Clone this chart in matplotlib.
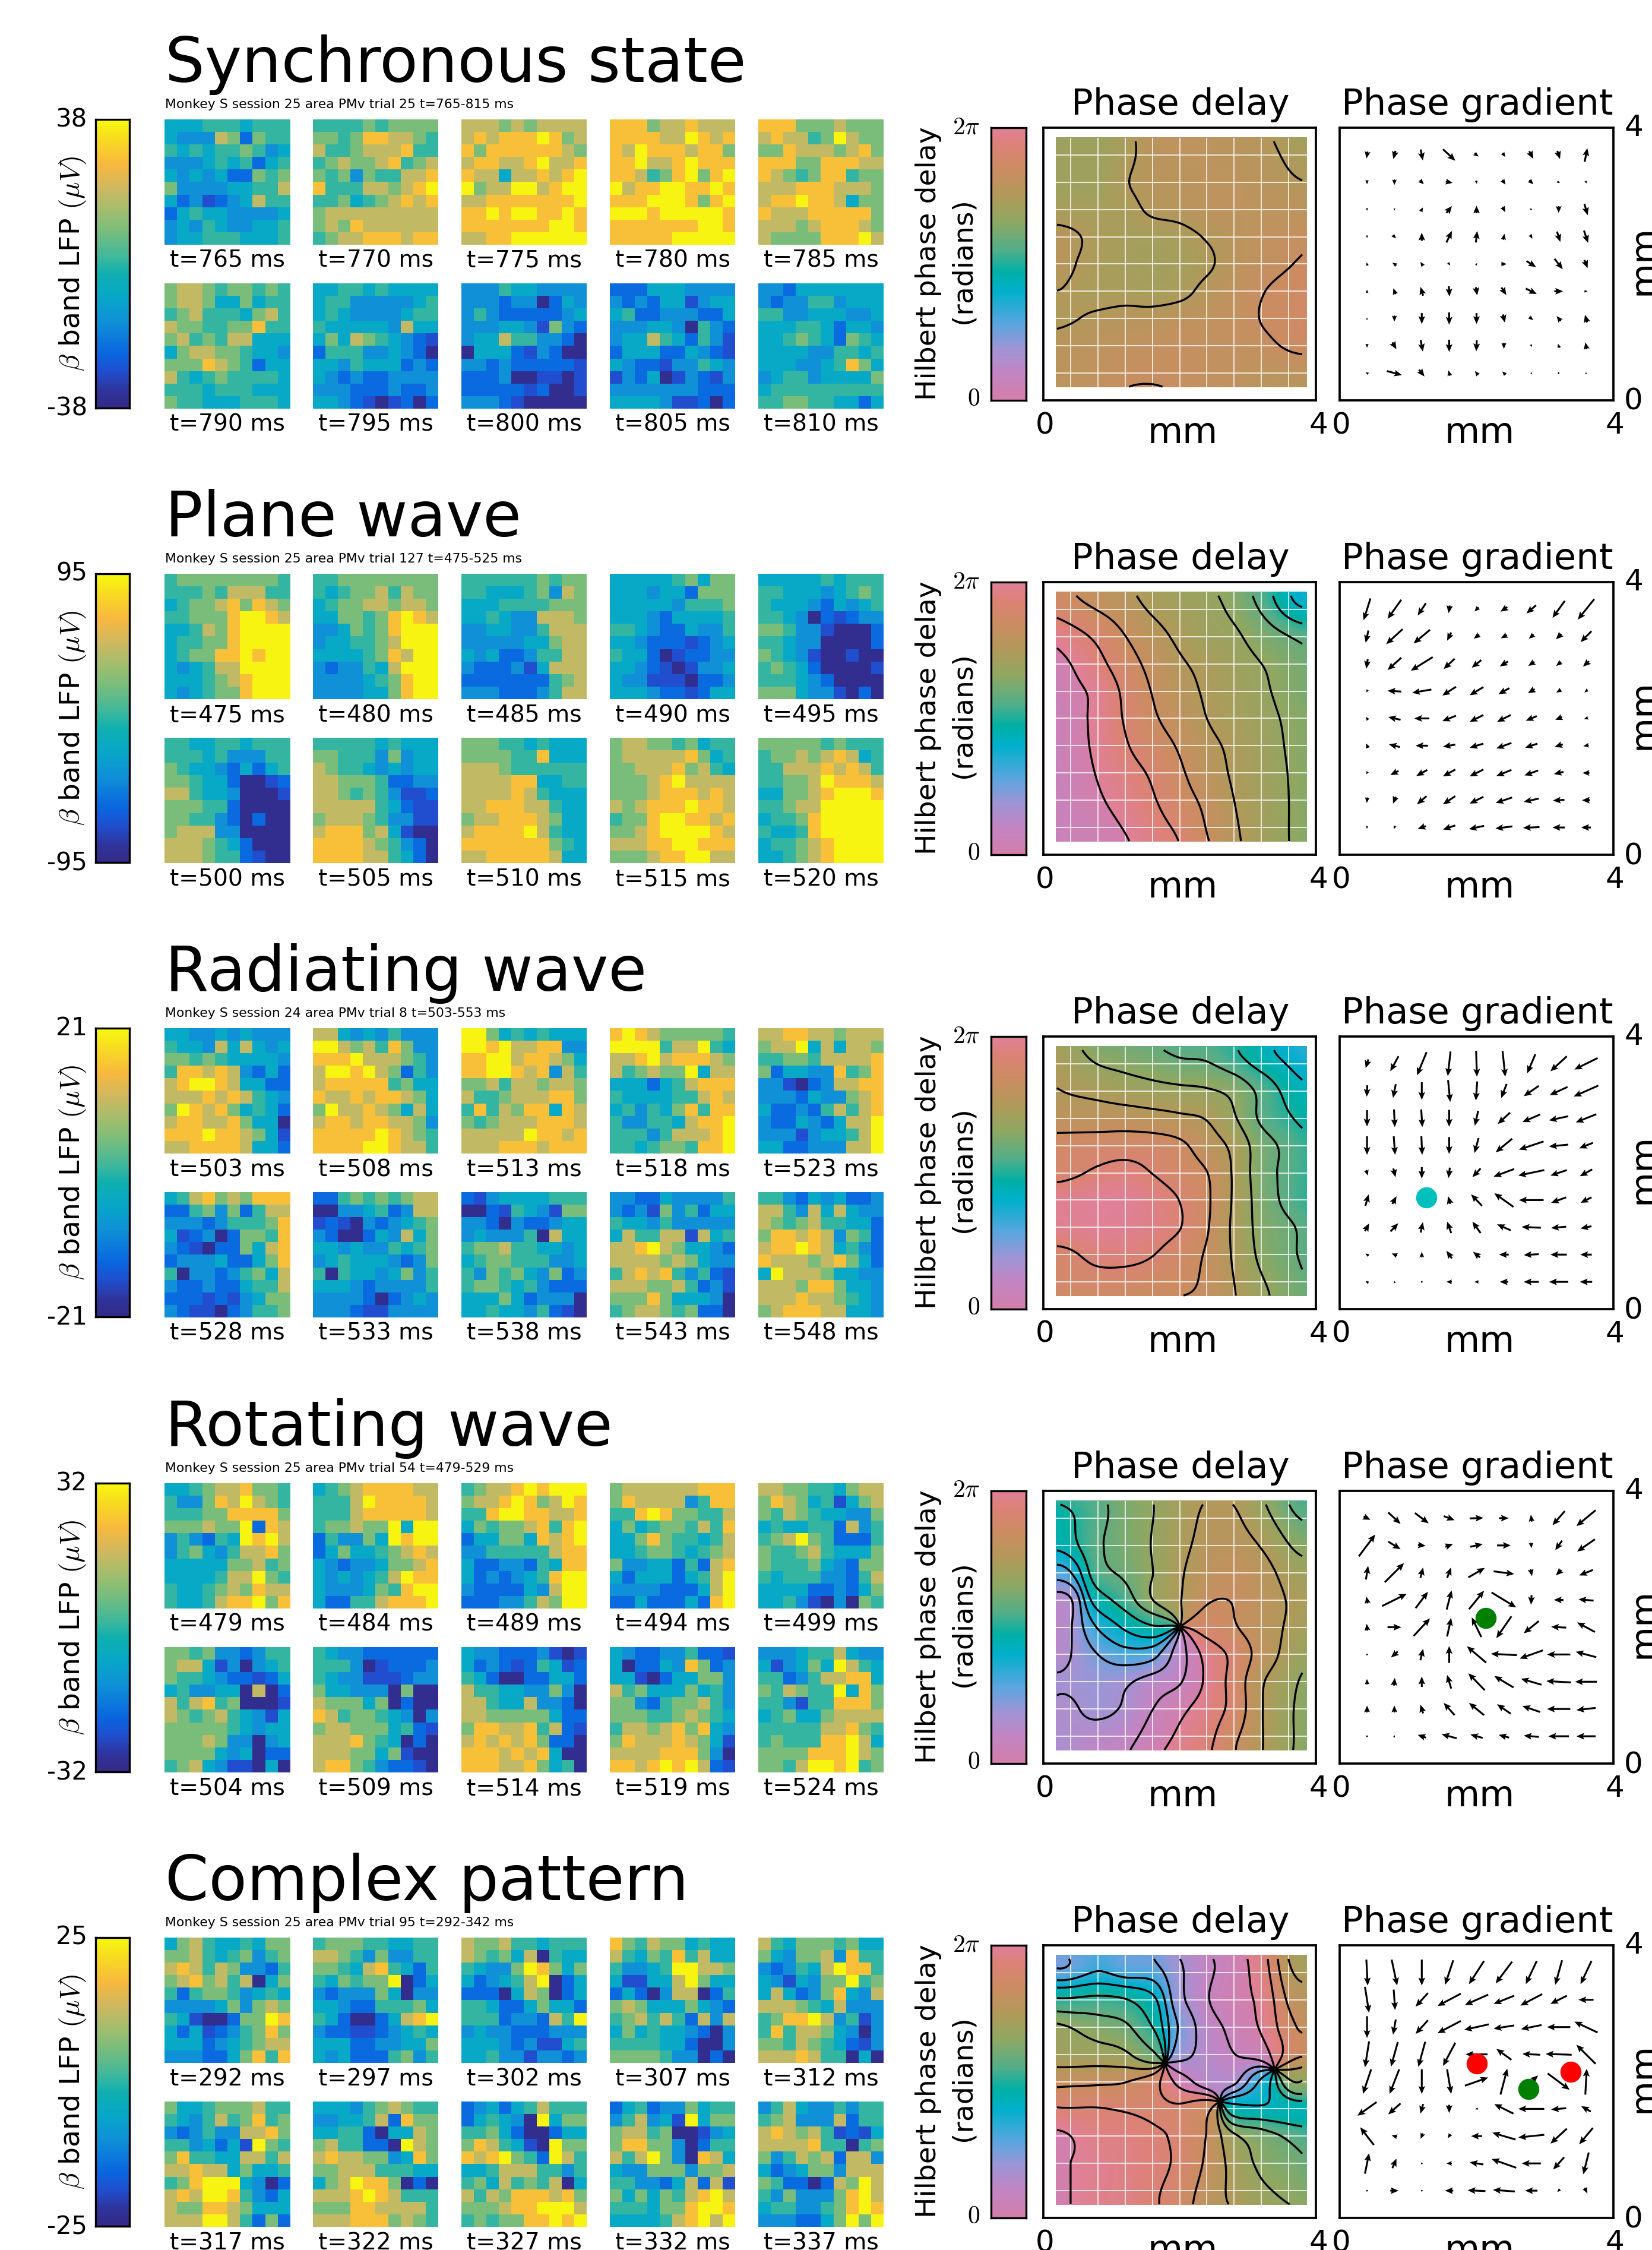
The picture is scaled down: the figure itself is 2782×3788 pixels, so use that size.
import numpy as np
import matplotlib
matplotlib.use("Agg")
import matplotlib.pyplot as plt
from matplotlib.colors import LinearSegmentedColormap

W_PX, H_PX = 2782, 3788
plt.rcParams["mathtext.fontset"] = "cm"

TITLES = ["Synchronous state", "Plane wave", "Radiating wave", "Rotating wave", "Complex pattern"]
CAPTIONS = [
    "Monkey S session 25 area PMv trial 25 t=765-815 ms",
    "Monkey S session 25 area PMv trial 127 t=475-525 ms",
    "Monkey S session 24 area PMv trial 8 t=503-553 ms",
    "Monkey S session 25 area PMv trial 54 t=479-529 ms",
    "Monkey S session 25 area PMv trial 95 t=292-342 ms",
]
LFP_LIMITS = [38, 95, 21, 32, 25]
TIMES = [
    [765, 770, 775, 780, 785, 790, 795, 800, 805, 810],
    [475, 480, 485, 490, 495, 500, 505, 510, 515, 520],
    [503, 508, 513, 518, 523, 528, 533, 538, 543, 548],
    [479, 484, 489, 494, 499, 504, 509, 514, 519, 524],
    [292, 297, 302, 307, 312, 317, 322, 327, 332, 337],
]

# colour levels, 0 = bottom of the colourbar, 9 = top
LEVEL_POS = [0.03, 0.128, 0.2, 0.3, 0.39, 0.51, 0.615, 0.74, 0.865, 0.985]

SYNC_LFP = [
    ["4445554555", "4333762655", "5454556534", "3334545245", "4343422656", "6333344557", "4231234755", "2454433334", "3435433445", "3445554445"],
    ["5555656666", "6656887765", "7556777855", "5676678567", "6563655778", "8555776789", "5564567878", "6777777777", "6768777777", "5677888788"],
    ["7776767777", "7878889867", "8688888876", "7887789778", "8774778789", "9677997899", "7788888889", "8898998898", "8888888998", "7788999999"],
    ["8886778777", "8888779878", "8798887886", "8897789888", "8875689689", "9788998898", "8889998689", "9998999998", "8888888998", "8888899999"],
    ["8886667666", "7877569766", "6687776786", "8886688877", "8765688566", "7778887776", "7889887466", "8777888886", "7776788876", "7666688897"],
    ["6776566565", "6776446455", "5675554675", "7665566855", "6756577444", "4677665443", "6668765244", "7545655554", "5554555444", "6554445554"],
    ["4455454444", "4553333345", "4543333455", "5444443744", "4647654321", "2555334320", "4435444232", "4323223333", "3332223223", "4432101202"],
    ["3335443333", "3332330243", "3532222234", "3334431632", "3447553320", "0444213200", "3323222221", "2223001101", "2222212001", "3332100000"],
    ["2224443333", "3232441344", "4522333224", "3334430532", "3447542531", "2444224321", "4322133543", "1324013213", "3333333222", "4444311202"],
    ["3324444444", "3233553444", "5533444334", "4445542443", "4456542654", "4444335545", "4443345864", "3455344446", "4555555555", "5566554424"],
]
PLANE_LFP = [
    ["5666666665", "5556577755", "4566786876", "5566689987", "4457689999", "4556689999", "4566889899", "4345779999", "4445678999", "4345668999"],
    ["5566666666", "5456675766", "4566776776", "4466568987", "3346568999", "3445567999", "4444568799", "3233547999", "3333456899", "3333446899"],
    ["5555556566", "5544456376", "4445555666", "4454337776", "3344335777", "3333344677", "4342235577", "3222314777", "2222222567", "3332223577"],
    ["4444456466", "4443442666", "4444435556", "4443244445", "5543224335", "4432221234", "5442012233", "4432101334", "4331110223", "4443221244"],
    ["4444454555", "5544434565", "5444324345", "5543021233", "6653310002", "5543300002", "6543100100", "5654200001", "5554320000", "6664331020"],
    ["5544554555", "5554533355", "6544324245", "6654420012", "7754430001", "6665520000", "6655320200", "6777330000", "7776542000", "7776552100"],
    ["5555545444", "6655536344", "7655434344", "7766652233", "7765653112", "7777754211", "6777653311", "7888674100", "8888765320", "8888775420"],
    ["6665545444", "6666558444", "7776555555", "7777884455", "7777875444", "7788877544", "6778887644", "7888897544", "8888888654", "7788888744"],
    ["6776656455", "6777778645", "6677786754", "6667897777", "6667888787", "7678889887", "5668998878", "6678999987", "7778899888", "6667889977"],
    ["6666656555", "5667678745", "5577787875", "5566798887", "4466789998", "5567799999", "4556899999", "5445899999", "4556789999", "4456789999"],
]
RADIATE_LFP = [
    ["4433434333", "5443747434", "6656544443", "5887873242", "7899874422", "7778787543", "6987864542", "7887786440", "8889887641", "7788887442"],
    ["7743435333", "9976758633", "8889777653", "7998976253", "7888885644", "8778788764", "6977876474", "7887887763", "8888898765", "8888998775"],
    ["9964545444", "9989778833", "8899788764", "8899878375", "6675776776", "7556777886", "5857688487", "6567778887", "7777798878", "7778887888"],
    ["8987666665", "9999577954", "7789788876", "7567669477", "4442457888", "5444455787", "4535468588", "5335547889", "5553577789", "5545665889"],
    ["7788776777", "6779474776", "5566577778", "6244338568", "3310237788", "3332433678", "4223257578", "3224324779", "3331344579", "4422333779"],
    ["4578676888", "2256362577", "3332355568", "4123026658", "3210226478", "2333422468", "5033235647", "3223224557", "2221213466", "3211023556"],
    ["2256565677", "0033452377", "1210323456", "3200243746", "4434335456", "3454443236", "5054434635", "4443233335", "3333202343", "3332113333"],
    ["2134444555", "0021543166", "3320322344", "3433350744", "5667554434", "4566555334", "5365643623", "5665453222", "4446423330", "4454435210"],
    ["3322433335", "3231635244", "5443533333", "4755771745", "7789764432", "7777676433", "5787853521", "7776675231", "6668644430", "5677656220"],
    ["5532434223", "7753747433", "7656755442", "6887873652", "7889874532", "8777678642", "4977764433", "7776886443", "7778776543", "6788877443"],
]
ROTATE_LFP = [
    ["4456778665", "5336879765", "5556688886", "6667669287", "3532549897", "3564357786", "4444466756", "4444577965", "5445676877", "5445788968"],
    ["4567888877", "5557988887", "5557888887", "5667669499", "2533649899", "2464456787", "4323346678", "4343457988", "4333465899", "4225578889"],
    ["5677898999", "6778986798", "5589988778", "4656678589", "2446648789", "3355555788", "4223325488", "4232345899", "3222243799", "2223357699"],
    ["6777777888", "6877773588", "5589866557", "4645665758", "4468655457", "4456654567", "6334425278", "4244424579", "3333222479", "2242224289"],
    ["7766554677", "6876451467", "6576544336", "4544552735", "5679652225", "6556754446", "6555643266", "5455533257", "4444223246", "4453103065"],
    ["6656332355", "6774130345", "6554322124", "4533440702", "7578560001", "7656754314", "6666654344", "6667633034", "6666434022", "5674311040"],
    ["5433222222", "5553012223", "5433111233", "6443330600", "7666460200", "8756654303", "6776664521", "7778654020", "7776646100", "7886532210"],
    ["4332223101", "4232125412", "5420022442", "7554433630", "7754473320", "7766666422", "6887785721", "7878786220", "8887878400", "8887786450"],
    ["4322335221", "4022438623", "4410244663", "7564446453", "6632566753", "6665567654", "5776786843", "6877787641", "7777888630", "8878989721"],
    ["3334557433", "4134649754", "5523577884", "6576559486", "5531558886", "4564467777", "5555577865", "5655588974", "6666888976", "6657998956"],
]
COMPLEX_LFP = [
    ["4675445466", "6675456356", "7875763325", "6786757046", "5256653454", "3333463676", "5410026698", "4241235686", "4442345677", "3332246858"],
    ["5666554455", "7765363355", "6654785425", "5465669024", "3233364033", "4432255564", "5420024789", "3221123454", "4442233446", "4342225635"],
    ["7667554555", "7656470544", "5433698646", "4234579024", "2220476024", "5542246442", "5552332759", "3433222333", "4443231145", "4453313323"],
    ["8657664544", "7546585744", "5334599776", "4114479644", "2420377025", "6764446432", "5675752737", "4645443203", "5555442003", "6666533020"],
    ["7546665644", "6436673855", "3235479885", "4314366956", "4742368437", "7776547333", "5688973513", "5857764303", "6657654213", "7778755040"],
    ["6445666755", "5435756856", "3235337786", "5534241965", "6855447757", "7787746445", "5689994302", "7879985324", "7668876444", "7779975262"],
    ["4443567655", "3344572866", "4455204476", "6755220976", "7877663486", "6677755544", "4679886020", "7778987555", "6668877775", "7778886765"],
    ["2342457555", "2454309466", "5564200244", "6875410966", "8789652975", "4457775535", "5647565704", "7576888786", "6667889997", "5656688989"],
    ["2452336455", "3573419466", "6775600134", "6886630255", "7579630874", "4336663667", "5533247271", "6464657897", "5554668998", "4444578979"],
    ["3574335355", "5673337255", "7876751214", "7777855056", "6357672773", "4234663777", "6522027697", "5363336897", "4553356898", "3332246969"],
]
LFP_FRAMES = [SYNC_LFP, PLANE_LFP, RADIATE_LFP, ROTATE_LFP, COMPLEX_LFP]

# phase at the 9x9 electrode grid in cycles, top row first; nan = phase singularity
SYNC_PHASE = [
    [.70, .70, .73, .78, .79, .79, .78, .77, .74],
    [.70, .70, .745, .77, .78, .79, .79, .78, .76],
    [.72, .72, .73, .76, .77, .79, .79, .79, .79],
    [.76, .735, .72, .72, .73, .755, .78, .80, .81],
    [.755, .73, .72, .71, .72, .74, .78, .81, .83],
    [.745, .73, .73, .72, .73, .77, .80, .83, .85],
    [.745, .76, .77, .775, .79, .80, .81, .835, .85],
    [.78, .79, .80, .81, .82, .81, .81, .82, .84],
    [.79, .80, .82, .825, .82, .81, .80, .79, .79],
]
PLANE_PHASE = [
    [.87, .83, .79, .74, .71, .69, .65, .575, .46],
    [.95, .90, .835, .78, .735, .70, .68, .63, .585],
    [1.0, .94, .87, .81, .76, .73, .70, .667, .63],
    [1.02, .98, .90, .83, .78, .74, .71, .68, .64],
    [1.03, .98, .91, .845, .80, .75, .72, .69, .655],
    [1.03, .985, .925, .87, .825, .77, .735, .70, .66],
    [1.04, .995, .95, .905, .845, .79, .74, .705, .665],
    [1.05, 1.01, .97, .925, .865, .815, .75, .71, .667],
    [1.05, 1.03, .995, .95, .90, .83, .76, .71, .667],
]
RADIATE_PHASE = [
    [.71, .665, .645, .625, .60, .59, .54, .47, .41],
    [.745, .73, .71, .695, .685, .675, .645, .56, .47],
    [.79, .79, .79, .78, .765, .745, .675, .57, .51],
    [.87, .875, .88, .875, .85, .79, .73, .62, .56],
    [.90, .93, .945, .915, .875, .835, .74, .62, .56],
    [.98, .99, .99, .96, .915, .845, .74, .63, .56],
    [.98, .99, .98, .96, .92, .84, .735, .64, .595],
    [.905, .94, .945, .92, .87, .825, .74, .65, .60],
    [.88, .885, .875, .865, .85, .82, .75, .675, .62],
]
ROTATE_PHASE = [
    [.49, .56, .62, .665, .72, .76, .76, .70, .61],
    [.47, .57, .62, .67, .73, .77, .78, .745, .67],
    [.33, .55, .60, .665, .74, .79, .81, .78, .72],
    [.16, .46, .54, .665, .745, .825, .83, .79, .745],
    [.16, .34, .43, .49, np.nan, .88, .84, .79, .74],
    [.165, .25, .30, .28, .12, .97, .895, .80, .72],
    [.18, .20, .18, .13, .09, .985, .885, .76, .69],
    [.155, .185, .155, .085, .02, .96, .89, .755, .68],
    [.15, .13, .11, .05, .985, .94, .85, .755, .68],
]
COMPLEX_PHASE = [
    [.28, .34, .30, .29, .18, .10, .04, .96, .77],
    [.51, .52, .505, .44, .19, .09, .03, .98, .82],
    [.665, .63, .60, .50, .24, .12, .06, .99, .86],
    [.70, .70, .68, .60, .20, .13, .085, .04, .88],
    [.815, .82, .83, .88, .03, .13, .15, .35, .65],
    [.92, .92, .91, .90, .90, .85, .45, .43, .44],
    [1.0, .96, .95, .93, .90, .83, .68, .62, .57],
    [1.0, .98, .96, .94, .90, .82, .72, .65, .62],
    [1.0, .975, .96, .93, .88, .80, .73, .68, .65],
]
PHASE_FIELDS = [SYNC_PHASE, PLANE_PHASE, RADIATE_PHASE, ROTATE_PHASE, COMPLEX_PHASE]

# (u, v) of each arrow in grid steps, top row first
SYNC_ARROWS = [
    [(-.04, -.25), (-.08, -.3), (.08, -.4), (.45, -.42), (.15, -.12), (.1, -.15), (.15, -.28), (.1, -.3), (.1, .5)],
    [(0, -.15), (0, -.2), (.15, -.15), (.25, -.05), (.02, -.12), (.12, -.17), (.15, -.15), (.1, -.05), (.03, -.1)],
    [(0, -.1), (0, -.08), (.08, .15), (.2, .25), (0, .28), (.1, -.2), (.08, -.05), (0, -.25), (.12, -.42)],
    [(0, -.1), (.12, -.12), (0, .3), (.2, .42), (.05, .42), (.04, .22), (.08, -.15), (.12, -.38), (.15, -.45)],
    [(-.03, .12), (-.15, .1), (-.1, .15), (.08, -.1), (.05, .08), (.2, 0), (.35, -.22), (.3, -.38), (.12, -.3)],
    [(0, .12), (-.08, .22), (-.1, .32), (.02, -.38), (.05, -.3), (.18, -.28), (.4, -.2), (.32, 0), (.12, 0)],
    [(0, .08), (0, -.22), (0, -.4), (0, -.45), (0, -.4), (.08, -.3), (.14, -.12), (-.15, .18), (-.08, .28)],
    [(0, -.14), (.15, -.25), (.08, -.42), (0, -.45), (-.02, -.4), (0, -.22), (.02, -.1), (-.05, .15), (-.05, .25)],
    [(-.1, .06), (.55, -.15), (.2, -.25), (-.05, .2), (-.12, .15), (-.12, .12), (0, .08), (0, .06), (0, .08)],
]
PLANE_ARROWS = [
    [(-.25, -.8), (-.5, -.7), (-.3, -.45), (-.04, -.28), (-.15, -.15), (-.25, -.17), (-.35, -.3), (-.45, -.62), (-.6, -.75)],
    [(-.1, -.45), (-.6, -.55), (-.6, -.5), (-.15, -.3), (-.2, -.15), (-.22, -.12), (-.18, -.15), (-.2, -.2), (-.4, -.4)],
    [(-.05, -.35), (-.5, -.45), (-.8, -.5), (-.4, -.38), (-.35, -.28), (-.3, -.18), (-.22, -.15), (-.18, -.15), (-.22, -.2)],
    [(-.04, -.1), (-.5, .03), (-.7, -.12), (-.5, -.32), (-.5, -.3), (-.4, -.22), (-.25, -.15), (-.18, -.1), (-.12, -.1)],
    [(-.08, .12), (-.45, .1), (-.55, 0), (-.5, -.2), (-.5, -.25), (-.5, -.25), (-.4, -.17), (-.25, -.1), (-.15, -.05)],
    [(-.08, .17), (-.4, .1), (-.45, 0), (-.45, -.08), (-.5, -.15), (-.55, -.2), (-.45, -.15), (-.3, -.1), (-.2, -.03)],
    [(-.05, -.1), (-.3, -.15), (-.4, -.22), (-.45, -.25), (-.5, -.25), (-.55, -.22), (-.5, -.18), (-.35, -.08), (-.25, 0)],
    [(-.02, -.2), (-.1, -.25), (-.35, -.3), (-.45, -.3), (-.5, -.25), (-.6, -.2), (-.55, -.12), (-.42, -.03), (-.3, 0)],
    [(0, -.1), (-.05, -.12), (-.3, -.1), (-.45, -.15), (-.55, -.12), (-.62, -.08), (-.6, -.03), (-.45, 0), (-.35, 0)],
]
RADIATE_ARROWS = [
    [(-.1, -.32), (-.3, -.55), (-.35, -.85), (-.1, -.9), (.03, -.95), (.1, -.95), (-.3, -.7), (-.6, -.55), (-.85, -.42)],
    [(-.02, -.42), (-.1, -.5), (0, -.65), (.08, -.8), (-.05, -.7), (-.2, -.52), (-.55, -.38), (-.65, -.3), (-.9, -.4)],
    [(0, -.6), (.03, -.65), (.04, -.65), (0, -.62), (-.12, -.55), (-.45, -.42), (-.65, -.28), (-.7, -.15), (-.75, -.3)],
    [(0, -.68), (.05, -.68), (.03, -.68), (0, -.62), (-.15, -.55), (-.6, -.5), (-.9, -.3), (-.7, -.07), (-.5, -.2)],
    [(.06, -.2), (.08, -.32), (0, -.42), (-.05, -.38), (-.3, -.32), (-.75, -.28), (-.95, -.2), (-.6, -.2), (-.45, -.25)],
    [(.12, .42), (.15, .28), (0, .05), (-.08, .28), (-.4, .42), (-.7, .5), (-.9, 0), (-.55, -.2), (-.4, -.2)],
    [(.15, .28), (.28, .3), (.08, .38), (-.15, .42), (-.3, .42), (-.5, .22), (-.7, .03), (-.55, -.05), (-.4, -.08)],
    [(-.12, .08), (-.2, .08), (0, .2), (-.2, .28), (-.25, .2), (-.35, 0), (-.55, -.03), (-.6, 0), (-.42, 0)],
    [(-.1, .08), (-.05, .08), (0, .05), (-.2, 0), (-.15, 0), (-.3, 0), (-.55, 0), (-.7, 0), (-.45, 0)],
]
ROTATE_ARROWS = [
    [(.25, -.12), (.45, -.42), (.5, -.38), (.4, -.15), (.5, .02), (.35, 0), (-.03, .25), (-.45, -.52), (-.7, -.58)],
    [(.6, .8), (.45, -.28), (.28, -.03), (.28, .1), (.45, .1), (.5, 0), (.02, -.2), (-.25, -.35), (-.65, -.45)],
    [(.08, .5), (.7, .7), (.1, .38), (.15, .38), (.6, .35), (.75, -.1), (.05, -.25), (-.2, -.2), (-.5, -.2)],
    [(-.05, .25), (.9, .45), (.45, .6), (.18, .7), (.55, .68), (.9, -.55), (-.02, -.35), (-.35, 0), (-.55, .05)],
    [(-.03, .25), (.5, 0), (.6, .65), (.15, .68), (-.35, .72), (-.55, -.8), (-.55, -.45), (-.55, .03), (-.65, .35)],
    [(0, .05), (-.25, -.22), (.1, .42), (0, .62), (-.7, .6), (-.95, .05), (-.85, -.3), (-.85, 0), (-.75, .2)],
    [(0, .2), (.03, .28), (0, .38), (-.15, .5), (-.6, .62), (-.7, .42), (-.75, .22), (-.9, .05), (-.8, 0)],
    [(0, .25), (0, .25), (-.1, .32), (-.4, .45), (-.55, .45), (-.5, .35), (-.65, .22), (-.85, 0), (-.7, -.08)],
    [(0, .05), (.03, .08), (-.3, .1), (-.55, .15), (-.45, .12), (-.38, .1), (-.55, .05), (-.75, 0), (-.7, 0)],
]
COMPLEX_ARROWS = [
    [(.05, -.95), (.2, -.95), (0, -.95), (-.3, -.9), (-.55, -.85), (-.6, -.8), (-.4, -.85), (-.25, -.9), (-.4, -.85)],
    [(.15, -.95), (.05, -.75), (-.45, -.5), (-.85, -.45), (-.85, -.38), (-.75, -.3), (-.8, -.42), (-.6, -.3), (-.55, 0)],
    [(0, -.8), (-.1, -.55), (-.45, -.5), (-.85, -.45), (-.9, -.2), (-.75, -.12), (-.75, -.15), (-.85, 0), (-.85, .4)],
    [(-.15, -.95), (-.25, -.9), (-.25, -.92), (-.45, -.85), (-.8, 0), (-.55, .4), (-.65, .03), (-.95, .03), (-.7, .7)],
    [(-.3, -.9), (-.35, -.9), (0, -.9), (.15, -.9), (.85, .3), (.25, .95), (.5, .45), (.8, -.6), (.05, .95)],
    [(-.7, -.5), (-.45, -.4), (-.1, -.35), (0, -.3), (-.1, -.03), (-.7, .35), (-.95, 0), (-.55, -.05), (-.35, .2)],
    [(-.5, .65), (-.2, .05), (-.08, -.2), (-.1, -.15), (-.4, 0), (-.85, .25), (-.95, -.1), (-.6, -.55), (-.5, -.6)],
    [(.15, .75), (.15, .35), (0, .05), (-.2, 0), (-.5, .08), (-.9, .32), (-.7, 0), (-.4, -.45), (-.2, -.8)],
    [(-.02, .02), (.3, 0), (0, .03), (-.3, 0), (-.65, .03), (-.8, .06), (-.45, 0), (-.1, -.1), (.1, -.2)],
]
ARROW_FIELDS = [SYNC_ARROWS, PLANE_ARROWS, RADIATE_ARROWS, ROTATE_ARROWS, COMPLEX_ARROWS]

# critical points drawn on the gradient panels: x, y, colour
DOTS = [
    [],
    [],
    [(3.16, 4.09, "#00c0bc")],
    [(5.33, 5.34, "#007f00")],
    [(5.02, 5.67, "#ff0000"), (8.44, 5.35, "#ff0000"), (6.89, 4.73, "#007f00")],
]

lfp_map = LinearSegmentedColormap.from_list(
    "lfp",
    [
        (0.0, "#352A87"), (0.058, "#30349C"), (0.128, "#2050D0"), (0.187, "#0A66E0"),
        (0.297, "#1090D8"), (0.387, "#08A8C8"), (0.465, "#10B0B0"), (0.525, "#40B89C"),
        (0.615, "#7ABD7C"), (0.695, "#A8BD6C"), (0.765, "#D0B860"), (0.845, "#F8B840"),
        (0.935, "#F8DC20"), (1.0, "#F7FA0E"),
    ],
)
phase_map = LinearSegmentedColormap.from_list(
    "phase",
    [
        (0.0, "#D37FAB"), (0.1, "#C385C4"), (0.19, "#9E95D6"), (0.28, "#5AA6DF"),
        (0.40, "#00B0CB"), (0.47, "#00B0A6"), (0.55, "#52AE8A"), (0.655, "#8FA863"),
        (0.745, "#B09A5A"), (0.85, "#CD8C63"), (0.94, "#DD8279"), (1.0, "#E0809A"),
    ],
)

fig = plt.figure(figsize=(W_PX / 100, H_PX / 100), dpi=100)


def add_axes(left, top, width, height):
    return fig.add_axes([left / W_PX, 1 - (top + height) / H_PX, width / W_PX, height / H_PX])


def put_text(x, y, s, size, **kw):
    kw.setdefault("va", "baseline")
    fig.text(x / W_PX, 1 - y / H_PX, s, fontsize=size, **kw)


def cubic_weights(xs):
    # Catmull-Rom weights for samples at 0, 1, ... 10
    weights = np.zeros((len(xs), 11))
    for k, x in enumerate(xs):
        i = int(np.clip(np.floor(x), 1, 8))
        t = x - i
        weights[k, i - 1] = -0.5 * t + t**2 - 0.5 * t**3
        weights[k, i] = 1 - 2.5 * t**2 + 1.5 * t**3
        weights[k, i + 1] = 0.5 * t + 2 * t**2 - 1.5 * t**3
        weights[k, i + 2] = -0.5 * t**2 + 0.5 * t**3
    return weights


def smooth_phase(field, xs, ys):
    cycles = np.flipud(np.array(field, dtype=float))
    z = np.exp(2j * np.pi * np.nan_to_num(cycles))
    z[np.isnan(cycles)] = 0
    pad = np.zeros((11, 11), dtype=complex)
    pad[1:10, 1:10] = z
    pad[0, :] = 2 * pad[1, :] - pad[2, :]
    pad[10, :] = 2 * pad[9, :] - pad[8, :]
    pad[:, 0] = 2 * pad[:, 1] - pad[:, 2]
    pad[:, 10] = 2 * pad[:, 9] - pad[:, 8]
    return cubic_weights(ys) @ pad @ cubic_weights(xs).T


def bare(ax, lw=2.7):
    ax.set_xticks([])
    ax.set_yticks([])
    for spine in ax.spines.values():
        spine.set_linewidth(lw)


HEAT_TOP = [201, 966, 1731, 2497, 3262]
BOX_TOP = [215, 980, 1745, 2510, 3275]
HEAT_LEFT = [277, 527, 777, 1027, 1277]
levels = np.array(LEVEL_POS)

for row in range(5):
    top = HEAT_TOP[row]
    limit = LFP_LIMITS[row]
    put_text(278, top - 63, TITLES[row], 75.8)
    put_text(278, top - 19, CAPTIONS[row], 15.75)

    # LFP frames
    for k, frame in enumerate(LFP_FRAMES[row]):
        digits = np.array([[int(c) for c in line] for line in frame])
        values = (levels[digits] * 2 - 1) * limit
        y0 = top + (k // 5) * 276
        x0 = HEAT_LEFT[k % 5]
        ax = add_axes(x0, y0, 211, 211)
        ax.imshow(values, cmap=lfp_map, vmin=-limit, vmax=limit, interpolation="nearest", aspect="auto")
        ax.axis("off")
        put_text(x0 + 105.5, y0 + 249, f"t={TIMES[row][k]} ms", 28.2, ha="center")

    # LFP colourbar
    cax = add_axes(161, top, 57, 486)
    cax.imshow(np.linspace(limit, -limit, 256)[:, None], cmap=lfp_map, aspect="auto", vmin=-limit, vmax=limit)
    bare(cax, 2.4)
    put_text(147, top + 0, str(limit), 30, ha="right", va="center")
    put_text(147, top + 487, f"-{limit}", 30, ha="right", va="center")
    put_text(122, top + 243, r"$\beta$ band LFP $(\mu V)$", 34, rotation=90, ha="center", va="center")

    # phase colourbar
    box = BOX_TOP[row]
    pax = add_axes(1669, box, 59, 459)
    pax.imshow(np.linspace(1, 0, 256)[:, None], cmap=phase_map, aspect="auto", vmin=0, vmax=1)
    bare(pax, 2.4)
    put_text(1650, box - 2, r"$2\pi$", 30, ha="right", va="center")
    put_text(1650, box + 456, r"$0$", 30, ha="right", va="center")
    put_text(1564, box + 229, "Hilbert phase delay", 34, rotation=90, ha="center", va="center")
    put_text(1622, box + 224, "(radians)", 34, rotation=90, ha="center", va="center")

    # phase map with contours
    xs = np.linspace(0.456, 9.67, 461)
    ys = np.linspace(0.47, 9.64, 461)
    z = smooth_phase(PHASE_FIELDS[row], xs, ys)
    ax = add_axes(1757, box, 459, 459)
    ax.imshow(
        phase_map(np.mod(np.angle(z) / (2 * np.pi), 1.0)),
        extent=(xs[0], xs[-1], ys[0], ys[-1]), origin="lower", aspect="auto", interpolation="bilinear",
    )
    ax.vlines(np.arange(1, 10), ys[0], ys[-1], color="white", lw=1.1)
    ax.hlines(np.arange(1, 10), xs[0], xs[-1], color="white", lw=1.1)
    cx = np.linspace(0.5, 9.5, 451)
    cz = smooth_phase(PHASE_FIELDS[row], cx, cx)
    for k in range(12):
        delta = np.angle(cz * np.exp(-2j * np.pi * k / 12))
        ax.contour(cx, cx, np.ma.masked_where(np.abs(delta) > 1.2, delta), levels=[0], colors="k", linewidths=2.4)
    ax.set_xlim(0, 10)
    ax.set_ylim(0, 10)
    bare(ax)
    put_text(1988, box - 22, "Phase delay", 43.8, ha="center")
    put_text(1760, box + 515, "0", 36, ha="center")
    put_text(2220, box + 515, "4", 36, ha="center")
    put_text(1992, box + 531, "mm", 43.8, ha="center")

    # gradient arrows
    arrows = np.array(ARROW_FIELDS[row])
    gx, gy = np.meshgrid(np.arange(1, 10), np.arange(9, 0, -1))
    ax = add_axes(2256, box, 461, 459)
    ax.quiver(
        gx, gy, arrows[:, :, 0], arrows[:, :, 1], angles="xy", scale_units="xy", scale=1,
        pivot="mid", width=0.0068, headwidth=3.6, headlength=4.2, headaxislength=3.6, color="k",
    )
    for dot_x, dot_y, colour in DOTS[row]:
        ax.plot(dot_x, dot_y, "o", ms=24.5, color=colour, zorder=5)
    ax.set_xlim(0, 10)
    ax.set_ylim(0, 10)
    bare(ax)
    put_text(2488, box - 22, "Phase gradient", 43.8, ha="center")
    put_text(2259, box + 515, "0", 36, ha="center")
    put_text(2719, box + 515, "4", 36, ha="center")
    put_text(2492, box + 531, "mm", 43.8, ha="center")
    put_text(2751, box, "4", 36, ha="center", va="center")
    put_text(2751, box + 461, "0", 36, ha="center", va="center")
    put_text(2768, box + 223, "mm", 43.8, rotation=90, ha="center", va="center")

fig.savefig("out.png", dpi=100)
